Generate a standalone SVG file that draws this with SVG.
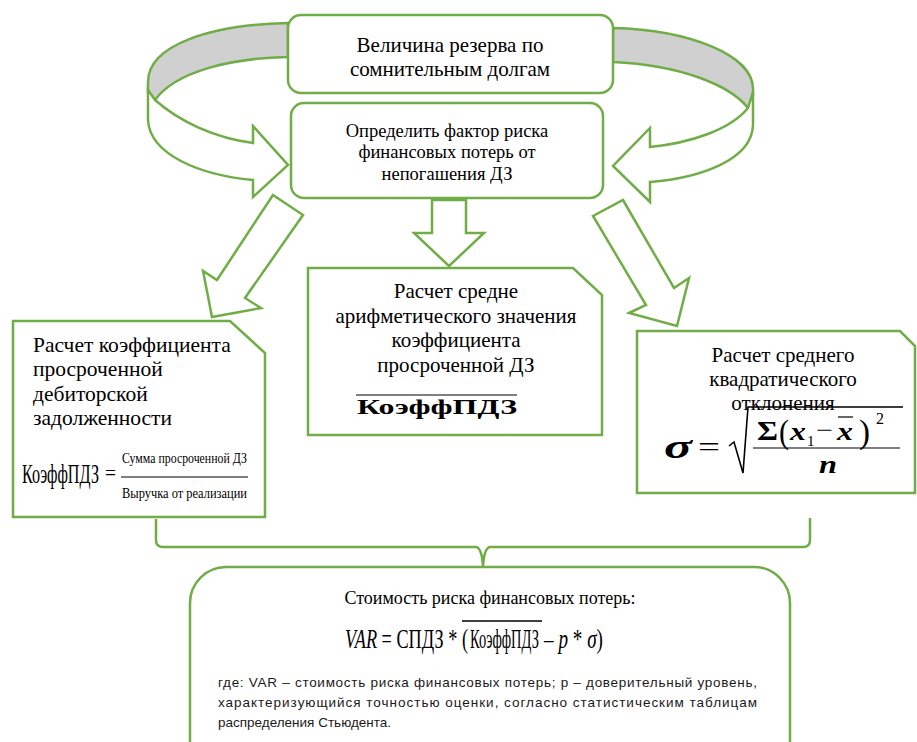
<svg xmlns="http://www.w3.org/2000/svg" width="917" height="742" viewBox="0 0 917 742">
<style>
.ln{fill:none;stroke:#70AD47;stroke-width:2.5;stroke-linejoin:miter}
.box{fill:#fff;stroke:#70AD47;stroke-width:2.5}
.band{fill:#D0D0D0;stroke:#70AD47;stroke-width:2.5}
.ar{fill:#fff;stroke:#70AD47;stroke-width:2.5;stroke-linejoin:miter}
.t{font-family:"Liberation Serif","Times New Roman",serif;fill:#000}
.s{font-family:"Liberation Sans",Arial,sans-serif;fill:#1a1a1a;font-size:13.5px}
.m{font-family:"Liberation Serif","Times New Roman",serif;fill:#000}
</style>
<rect width="917" height="742" fill="#fff"/>
<g id="connectors">
  <path class="band" d="M288,23 C210,25 148,45 148,82 L148,92 L155,100 C175,72 230,58 288,57 Z"/>
  <path class="ar" d="M148,90 L148,120 C150,155 200,175 253,180 L253,197 L288,165 L253,126 L253,143 C215,138 180,122 155,100 Z"/>
  <path class="band" d="M613,28 C690,30 752,55 753,88 L753,95 L748,108 C730,85 680,65 613,62 Z"/>
  <path class="ar" d="M753,92 L753,125 C752,160 700,178 650,182 L650,202 L613,166 L650,128 L650,147 C690,143 730,130 748,108 Z"/>
  <path class="ar" d="M432,200 L466,200 L466,233 L484,233 L449,266 L414,233 L432,233 Z"/>
  <path class="ar" d="M273,195 L303,215 L245,298 L261,308 L212,317 L203,271 L217,280 Z"/>
  <path class="ar" d="M593,216 L623,200 L674,288 L689,278 L677,326 L629,313 L646,305 Z"/>
  <path class="ln" stroke-width="3" d="M156,519 L156,540 Q156,547 163,547 L476,547 Q482,548 483,567 Q484,548 490,547 L803,547 Q810,547 810,540 L810,518"/>
</g>
<g id="node-reserve">
  <rect class="box" x="288" y="15" width="325" height="78" rx="13"/>
  <text class="t" font-size="21" text-anchor="middle" x="450" y="52">Величина резерва по</text>
  <text class="t" font-size="21" text-anchor="middle" x="450" y="76">сомнительным долгам</text>
</g>
<g id="node-factor">
  <rect class="box" x="291" y="103" width="312" height="95" rx="13"/>
  <text class="t" font-size="18.5" text-anchor="middle" x="447" y="137">Определить фактор риска</text>
  <text class="t" font-size="18.5" text-anchor="middle" x="447" y="158">финансовых потерь от</text>
  <text class="t" font-size="18.5" text-anchor="middle" x="447" y="180">непогашения ДЗ</text>
</g>
<g id="node-coef">
  <path class="box" d="M13,321 L230,321 L265,353 L265,517 L13,517 Z"/>
  <text class="t" font-size="21.5" x="33" y="352">Расчет коэффициента</text>
  <text class="t" font-size="21.5" x="33" y="376">просроченной</text>
  <text class="t" font-size="21.5" x="33" y="401">дебиторской</text>
  <text class="t" font-size="21.5" x="33" y="425">задолженности</text>
  <text class="m" font-size="27" x="22" y="483" textLength="77" lengthAdjust="spacingAndGlyphs">КоэффПДЗ</text>
  <text class="m" font-size="22" x="105" y="480" textLength="11" lengthAdjust="spacingAndGlyphs">=</text>
  <text class="m" font-size="15" x="122" y="463" textLength="125" lengthAdjust="spacingAndGlyphs">Сумма просроченной ДЗ</text>
  <line x1="121" y1="477" x2="248" y2="477" stroke="#000" stroke-width="1"/>
  <text class="m" font-size="15" x="122" y="498" textLength="125" lengthAdjust="spacingAndGlyphs">Выручка от реализации</text>
</g>
<g id="node-mean">
  <path class="box" d="M308,268 L573,268 L602,295 L602,435 L308,435 Z"/>
  <text class="t" font-size="21" text-anchor="middle" x="456" y="298">Расчет средне</text>
  <text class="t" font-size="21" text-anchor="middle" x="456" y="323">арифметического значения</text>
  <text class="t" font-size="21" text-anchor="middle" x="456" y="347">коэффициента</text>
  <text class="t" font-size="21" text-anchor="middle" x="456" y="372">просроченной ДЗ</text>
  <line x1="356" y1="395" x2="517" y2="395" stroke="#555" stroke-width="1.5"/>
  <text class="m" font-size="22" font-weight="bold" fill="#1a1a2e" x="357" y="414" textLength="160" lengthAdjust="spacingAndGlyphs">КоэффПДЗ</text>
</g>
<g id="node-sigma">
  <path class="box" d="M637,331 L900,331 L915,346 L915,493 L637,493 Z"/>
  <text class="t" font-size="21" text-anchor="middle" x="783" y="362">Расчет среднего</text>
  <text class="t" font-size="21" text-anchor="middle" x="783" y="386">квадратического</text>
  <text class="t" font-size="21" text-anchor="middle" x="783" y="410">отклонения</text>
  <text class="m" font-size="34" font-weight="bold" font-style="italic" x="664" y="458" textLength="28" lengthAdjust="spacingAndGlyphs">σ</text>
  <text class="m" font-size="28" x="698" y="456" textLength="22" lengthAdjust="spacingAndGlyphs">=</text>
  <path d="M729,446 L734,442 L743,473 L748,407 L903,407" fill="none" stroke="#000" stroke-width="1.6"/>
  <text class="m" font-size="28" font-weight="bold" x="757" y="440" textLength="21" lengthAdjust="spacingAndGlyphs">Σ</text>
  <text class="m" font-size="34" x="779" y="443" textLength="10" lengthAdjust="spacingAndGlyphs">(</text>
  <text class="m" font-size="26" font-weight="bold" font-style="italic" x="790" y="440" textLength="16" lengthAdjust="spacingAndGlyphs">x</text>
  <text class="m" font-size="15" x="807" y="446">1</text>
  <text class="m" font-size="24" x="816" y="438" textLength="17" lengthAdjust="spacingAndGlyphs">−</text>
  <text class="m" font-size="26" font-weight="bold" font-style="italic" x="837" y="440" textLength="16" lengthAdjust="spacingAndGlyphs">x</text>
  <line x1="838" y1="417" x2="853" y2="417" stroke="#000" stroke-width="1.2"/>
  <text class="m" font-size="34" x="859" y="443" textLength="11" lengthAdjust="spacingAndGlyphs">)</text>
  <text class="m" font-size="16" x="876" y="424">2</text>
  <line x1="753" y1="448" x2="900" y2="448" stroke="#000" stroke-width="1.2"/>
  <text class="m" font-size="26" font-weight="bold" font-style="italic" x="819" y="473" textLength="18" lengthAdjust="spacingAndGlyphs">n</text>
</g>
<g id="node-var">
  <rect class="box" x="190" y="567" width="600" height="210" rx="36"/>
  <text class="t" font-size="18" text-anchor="middle" x="490" y="604">Стоимость риска финансовых потерь:</text>
  <text class="m" font-size="28" x="345" y="648" textLength="123" lengthAdjust="spacingAndGlyphs"><tspan font-style="italic">VAR</tspan> = СПДЗ * (</text>
  <text class="m" font-size="28" x="470" y="648" textLength="69" lengthAdjust="spacingAndGlyphs">КоэффПДЗ</text>
  <line x1="462" y1="621" x2="542" y2="621" stroke="#000" stroke-width="1.3"/>
  <text class="m" font-size="28" x="544" y="648" textLength="59" lengthAdjust="spacingAndGlyphs">– <tspan font-style="italic">p</tspan> * <tspan font-style="italic">σ</tspan>)</text>
  <text class="s" x="218" y="687" textLength="539" lengthAdjust="spacing">где: VAR – стоимость риска финансовых потерь; p – доверительный уровень,</text>
  <text class="s" x="218" y="707" textLength="539" lengthAdjust="spacing">характеризующийся точностью оценки, согласно статистическим таблицам</text>
  <text class="s" x="218" y="727">распределения Стьюдента.</text>
</g>
</svg>
